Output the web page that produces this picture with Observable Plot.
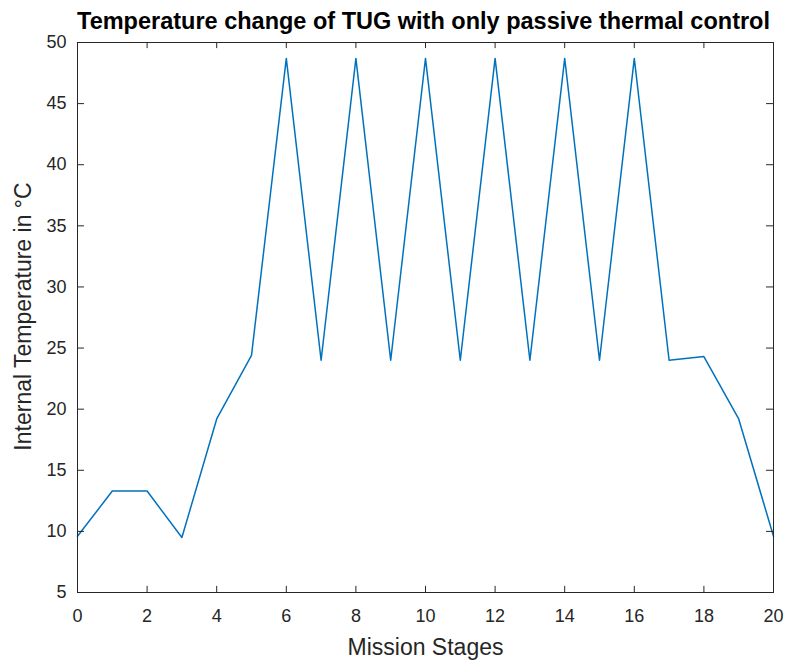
<!DOCTYPE html>
<html>
<head>
<meta charset="utf-8">
<script src="https://cdn.jsdelivr.net/npm/d3@7"></script>
<script src="https://cdn.jsdelivr.net/npm/@observablehq/plot@0.6"></script>
<style>
  html, body { margin: 0; padding: 0; background: #fff; }
  #chart svg { display: block; }
</style>
</head>
<body>
<div id="chart"></div>
<script>
const title = "Temperature change of TUG with only passive thermal control";
const xLabel = "Mission Stages";
const yLabel = "Internal Temperature in °C";
const stages = [0,1,2,3,4,5,6,7,8,9,10,11,12,13,14,15,16,17,18,19,20];
const temps = [9.6,13.3,13.3,9.5,19.2,24.4,48.7,24.0,48.7,24.0,48.7,24.0,48.7,24.0,48.7,24.0,48.7,24.0,24.3,19.2,9.6];
const xTicks = [0,2,4,6,8,10,12,14,16,18,20];
const yTicks = [5,10,15,20,25,30,35,40,45,50];

const data = stages.map((s, i) => ({stage: s, temp: temps[i]}));
const axisColor = "#262626";
const font = "'Liberation Sans', Arial, Helvetica, sans-serif";

const chart = Plot.plot({
  width: 786,
  height: 661,
  marginLeft: 77,
  marginRight: 13,
  marginTop: 42,
  marginBottom: 69,
  style: {fontFamily: font, background: "#fff", color: axisColor},
  x: {domain: [0, 20]},
  y: {domain: [5, 50]},
  marks: [
    Plot.line(data, {x: "stage", y: "temp", stroke: "#0072BD", strokeWidth: 1.5}),
    // inward ticks (MATLAB style) on all four sides
    Plot.ruleX(xTicks, {x: d => d, y1: 5, y2: 5.5, stroke: axisColor, strokeWidth: 1}),
    Plot.ruleX(xTicks, {x: d => d, y1: 50, y2: 49.5, stroke: axisColor, strokeWidth: 1}),
    Plot.ruleY(yTicks, {y: d => d, x1: 0, x2: 0.2, stroke: axisColor, strokeWidth: 1}),
    Plot.ruleY(yTicks, {y: d => d, x1: 20, x2: 19.8, stroke: axisColor, strokeWidth: 1}),
    Plot.frame({stroke: axisColor, strokeWidth: 1}),
    Plot.axisX(xTicks, {tickSize: 0, tickPadding: 17, label: null, fontSize: 18, fill: axisColor}),
    Plot.axisY(yTicks, {tickSize: 0, tickPadding: 11, label: null, fontSize: 18, fill: axisColor}),
    Plot.text([xLabel], {frameAnchor: "bottom", lineAnchor: "bottom", dy: 62, fontSize: 23, fill: axisColor}),
    Plot.text([yLabel], {frameAnchor: "left", textAnchor: "middle", lineAnchor: "bottom", rotate: -90, dx: -47, dy: -1, fontSize: 23, fill: axisColor}),
    Plot.text([title], {frameAnchor: "top", lineAnchor: "bottom", dy: -14, dx: -2, fontSize: 23.5, fontWeight: "bold", fill: "#000"})
  ]
});
document.getElementById("chart").appendChild(chart);
</script>
</body>
</html>
